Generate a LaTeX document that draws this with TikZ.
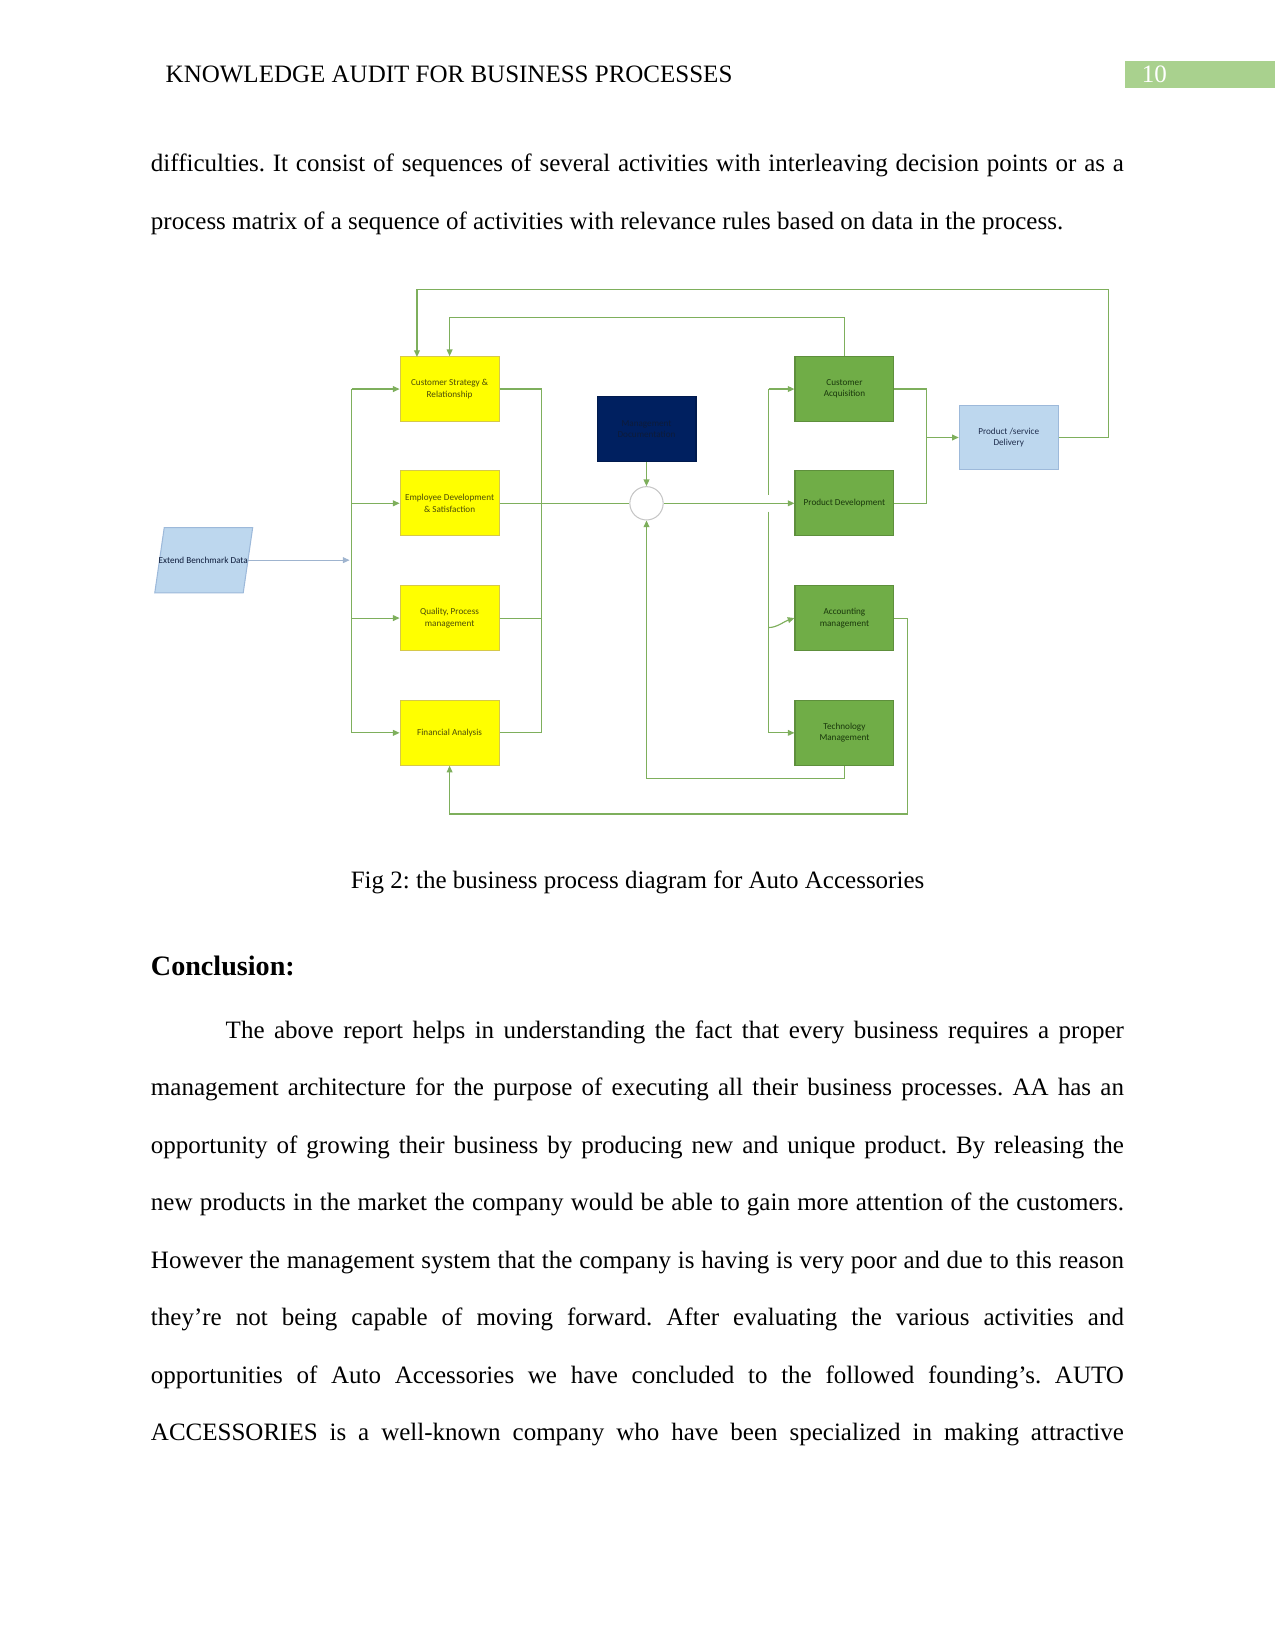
\documentclass[tikz,border=0pt]{standalone}
\usepackage{fontspec}
\setmainfont{Liberation Serif}
\newfontfamily\diagfont{Carlito}
\usetikzlibrary{arrows.meta,calc}
\definecolor{lgreen}{HTML}{A9D18E}
\definecolor{conn}{HTML}{7EAF5C}
\definecolor{ybox}{HTML}{FFFF00}
\definecolor{yborder}{HTML}{D6C84A}
\definecolor{ytext}{HTML}{4D4D08}
\definecolor{gbox}{HTML}{70AD47}
\definecolor{gborder}{HTML}{5E8F3C}
\definecolor{gtext}{HTML}{1A380C}
\definecolor{navy}{HTML}{002060}
\definecolor{navytext}{HTML}{0D1B3A}
\definecolor{lblue}{HTML}{BDD7EE}
\definecolor{lbborder}{HTML}{9DB9DA}
\definecolor{lbtext}{HTML}{1F2D4D}
\definecolor{ebdarrow}{HTML}{9FB4CF}
\frenchspacing
\begin{document}
\begin{tikzpicture}[x=0.5054pt,y=-0.5054pt,
  box/.style={draw, line width=0.5pt, minimum width=47.5pt, minimum height=31.1pt, inner sep=1pt, align=center, font=\diagfont\fontsize{4.4}{5.4}\selectfont},
  ybx/.style={box, fill=ybox, draw=yborder, text=ytext},
  gbx/.style={box, fill=gbox, draw=gborder, text=gtext},
  ln/.style={draw=conn, line width=0.55pt},
  arr/.style={ln, -{Triangle[length=3.2pt,width=2.8pt]}},
  body/.style={anchor=base west, inner sep=0pt, font=\fontsize{12}{14}\selectfont},
]
\useasboundingbox (0,0) rectangle (1211,1568);

% header
\node[body] (hdr) at (157,78) {KNOWLEDGE AUDIT FOR BUSINESS PROCESSES};
\fill[lgreen] (1068,58) rectangle (1211,84);
\node[body, text=white] (pg) at (1084,78) {10};

% first paragraph
\node[body] (p1) at (143,163) {\makebox[467pt][s]{difficulties. It consist of sequences of several activities with interleaving decision points or as a}};
\node[body] (p2) at (143,218) {process matrix of a sequence of activities with relevance rules based on data in the process.};

% ---------- diagram ----------
\node[ybx] (cs) at (427,369.5) {Customer Strategy \&\\Relationship};
\node[ybx] (ed) at (427,478) {Employee Development\\\& Satisfaction};
\node[ybx] (qp) at (427,587) {Quality, Process\\management};
\node[ybx] (fa) at (427,696) {Financial Analysis};

\node[gbx] (ca) at (802,369.5) {Customer\\Acquisition};
\node[gbx] (pd) at (802,478) {Product Development};
\node[gbx] (am) at (802,587) {Accounting\\management};
\node[gbx] (tm) at (802,696) {Technology\\Management};

\node[box, fill=navy, draw=navy!80!black, text=navytext] (db) at (614,407.5) {Management\\Documentation};
\node[box, fill=lblue, draw=lbborder, text=lbtext] (psd) at (958,415.5) {Product /service\\Delivery};
\node[circle, draw=gray!45, fill=white, line width=0.5pt, minimum size=16pt, inner sep=0pt] (circ) at (614,478) {};

% parallelogram
\filldraw[fill=lblue, draw=lbborder, line width=0.5pt] (156,501) -- (240,501) -- (231,563) -- (147,563) -- cycle;
\node[inner sep=0pt, text=navytext, font=\diagfont\fontsize{4.4}{5.4}\selectfont] (ebd) at (193,532) {Extend Benchmark Data};
\coordinate (ebdr) at (235.5,532);
\coordinate (lbus) at (334,532);
\draw[draw=ebdarrow, line width=0.5pt, -{Triangle[length=3.2pt,width=2.8pt]}] (ebdr) -- ([xshift=-1pt]lbus);

% left bus
\draw[ln] (cs.west -| lbus) -- (fa.west -| lbus);
\foreach \n in {cs,ed,qp,fa} \draw[arr] (\n.west -| lbus) -- (\n.west);

% right bus
\coordinate (rbus) at (514,478);
\draw[ln] (cs.east) -- (cs.east -| rbus) -- (fa.east -| rbus) -- (fa.east);
\draw[ln] (qp.east) -- (qp.east -| rbus);
\draw[ln] (ed.east) -- (circ.west);

% circle connections
\draw[arr] (db.south) -- (circ.north);
\draw[arr] (circ.east) -- (pd.west);
\draw[arr] (tm.south) -- ++(0,12) -| (circ.south);

% green bus
\coordinate (gbus) at (730,478);
\draw[ln] (ca.west -| gbus) -- ($(gbus)+(0,-8)$);
\draw[ln] ($(gbus)+(0,8)$) -- (tm.west -| gbus);
\draw[arr] (ca.west -| gbus) -- (ca.west);
\draw[arr] (tm.west -| gbus) -- (tm.west);
\coordinate (amin) at (730,596);
\draw[arr] (amin) .. controls (738,596) and (745,590) .. (am.west);

% to product/service delivery
\coordinate (mbus) at (880,415.5);
\draw[ln] (ca.east) -- (ca.east -| mbus) -- (pd.east -| mbus) -- (pd.east);
\draw[arr] (mbus) -- (psd.west);

% feedback loops
\coordinate (cstop) at (396,339);
\draw[arr] (psd.east) -- ++(47,0) |- (396,275) -- (cstop);
\draw[arr] (ca.north) -- ++(0,-37) -| (cs.north);
\draw[arr] (am.east) -- ++(12,0) |- (427,773) -- (fa.south);

% caption
\node[anchor=base, inner sep=0pt, font=\fontsize{12}{14}\selectfont] (cap) at (605.5,844) {Fig 2: the business process diagram for Auto Accessories};

% conclusion
\node[body, font=\fontsize{13.5}{16}\selectfont\bfseries] (conc) at (143,926) {Conclusion:};

\node[body] (c1) at (214,986) {\makebox[431.1pt][s]{The above report helps in understanding the fact that every business requires a proper}};
\node[body] (c2) at (143,1040.6) {\makebox[467pt][s]{management architecture for the purpose of executing all their business processes. AA has an}};
\node[body] (c3) at (143,1095.2) {\makebox[467pt][s]{opportunity of growing their business by producing new and unique product. By releasing the}};
\node[body] (c4) at (143,1149.8) {\makebox[467pt][s]{new products in the market the company would be able to gain more attention of the customers.}};
\node[body] (c5) at (143,1204.4) {\makebox[467pt][s]{However the management system that the company is having is very poor and due to this reason}};
\node[body] (c6) at (143,1259) {\makebox[467pt][s]{they’re not being capable of moving forward. After evaluating the various activities and}};
\node[body] (c7) at (143,1313.6) {\makebox[467pt][s]{opportunities of Auto Accessories we have concluded to the followed founding’s. AUTO}};
\node[body] (c8) at (143,1368.2) {\makebox[467pt][s]{ACCESSORIES is a well-known company who have been specialized in making attractive}};
\end{tikzpicture}
\end{document}
